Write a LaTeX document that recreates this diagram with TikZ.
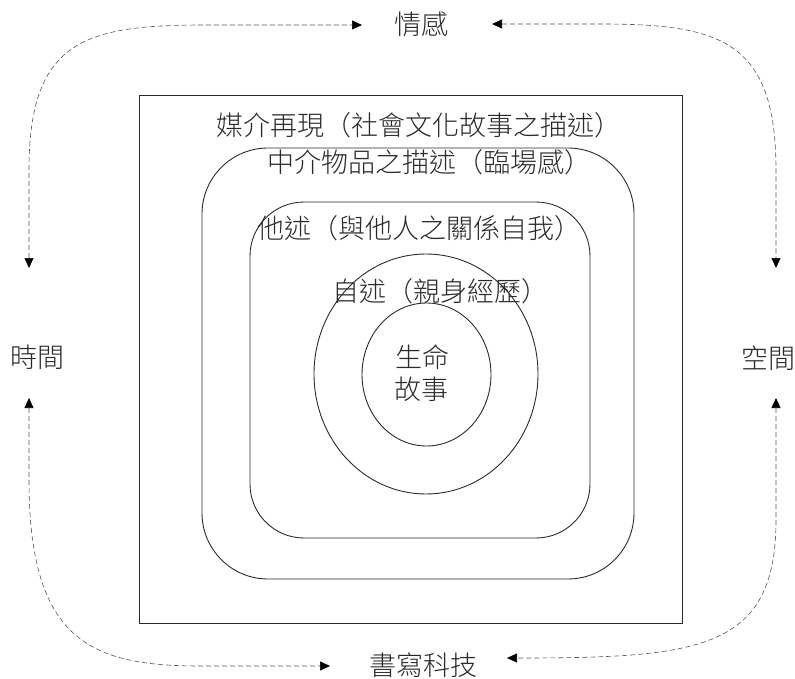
\documentclass[tikz,border=0pt]{standalone}
\usepackage{fontspec}
\IfFontExistsTF{Noto Sans CJK TC Light}
  {\newfontfamily\cjk{Noto Sans CJK TC Light}}
  {\IfFontExistsTF{Noto Sans CJK TC DemiLight}
    {\newfontfamily\cjk{Noto Sans CJK TC DemiLight}}
    {\newfontfamily\cjk{Noto Sans CJK TC}}}
\usetikzlibrary{shapes.geometric,arrows.meta}
\definecolor{ink}{HTML}{2A2A2A}
\definecolor{dashc}{HTML}{555555}
\begin{document}
\begin{tikzpicture}[x=1pt,y=-1pt,
  lbl/.style={font=\cjk\fontsize{27}{32}\selectfont, text=ink, inner sep=0pt, anchor=base west},
  frame/.style={draw=ink, line width=0.9pt, inner sep=0pt},
  darr/.style={draw=dashc, line width=0.6pt, dash pattern=on 5pt off 3pt,
    {Triangle[length=10pt,width=9pt,color=black]}-{Triangle[length=10pt,width=9pt,color=black]}}]
\useasboundingbox (0,0) rectangle (795,679);
% frames
\node[frame, minimum width=543pt, minimum height=528pt] (sq) at (410.5,359) {};
\node[frame, rounded corners=66pt, minimum width=432pt, minimum height=431pt] (rr1) at (418,363.5) {};
\node[frame, rounded corners=54pt, minimum width=340pt, minimum height=336pt] (rr2) at (420,370) {};
\node[frame, ellipse, minimum width=224pt, minimum height=240pt] (el1) at (426,374) {};
\node[frame, ellipse, minimum width=129pt, minimum height=143pt] (el2) at (426.5,374.5) {};
% labels
\node[lbl] (media) at (216,136) {媒介再現（社會文化故事之描述）};
\node[lbl] (mid) at (267,173) {中介物品之描述（臨場感）};
\node[lbl] (other) at (257,238) {他述（與他人之關係自我）};
\node[lbl] (self) at (332,301) {自述（親身經歷）};
\node[lbl, anchor=base] (life1) at (422,367) {生命};
\node[lbl, anchor=base] (life2) at (421,399) {故事};
\node[lbl] (emo) at (394,35) {情感};
\node[lbl] (time) at (10,367) {時間};
\node[lbl] (space) at (741,368) {空間};
\node[lbl] (tech) at (369,675) {書寫科技};
% arrow endpoints
\coordinate (a1) at (29,268);
\coordinate (a2) at (362,25);
\coordinate (a3) at (492,24);
\coordinate (a4) at (776,268);
\coordinate (a5) at (29,398);
\coordinate (a6) at (330,666);
\coordinate (a7) at (776,398);
\coordinate (a8) at (507,658);
% dashed arrows
\draw[darr] (a1) -- (29,170) .. controls (29,40) and (85,25) .. (205,25) -- (a2);
\draw[darr] (a3) -- (600,24) .. controls (720,24) and (776,40) .. (776,170) -- (a4);
\draw[darr] (a5) -- (29,480) .. controls (29,640) and (90,666) .. (200,666) -- (a6);
\draw[darr] (a7) -- (776,520) .. controls (776,650) and (700,658) .. (a8);
\end{tikzpicture}
\end{document}
